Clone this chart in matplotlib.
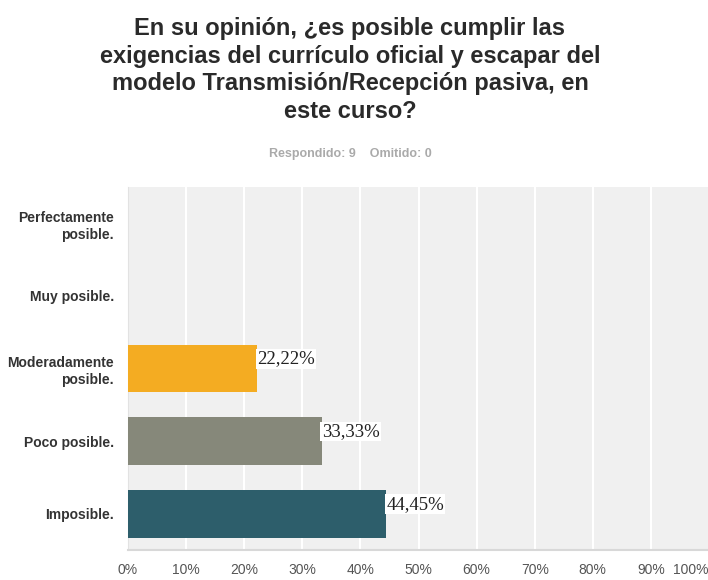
import matplotlib.pyplot as plt
import numpy as np

# survey answers, top to bottom as shown
categories = ["Perfectamente\nposible.", "Muy posible.", "Moderadamente\nposible.",
              "Poco posible.", "Imposible."]
percentages = [0.0, 0.0, 22.22, 33.33, 44.45]
bar_colors = ["#F4AC22", "#F4AC22", "#F4AC22", "#86887A", "#2D5E6B"]
tick_values = list(range(0, 101, 10))
tick_labels = [f"{v}%" for v in tick_values]

title = ("En su opinión, ¿es posible cumplir las\n"
         "exigencias del currículo oficial y escapar del\n"
         "modelo Transmisión/Recepción pasiva, en\n"
         "este curso?")
subtitle = "Respondido: 9    Omitido: 0"

plt.rcParams['font.family'] = ['Liberation Sans', 'DejaVu Sans']

fig = plt.figure(figsize=(7.08, 5.80), dpi=100)
ax = fig.add_axes([128 / 708, 30 / 580, 581 / 708, 363 / 580])
ax.set_facecolor("#F0F0F0")

y = np.arange(len(categories))
ax.barh(y, percentages, height=0.66, color=bar_colors, zorder=3)

for yi, val in zip(y, percentages):
    if val <= 0:
        continue
    ax.text(val, yi - 0.13, f"{val:.2f}%".replace(".", ","),
            ha="left", va="center", fontsize=13.5, color="#222222",
            family=["Liberation Serif", "DejaVu Serif"], zorder=4,
            bbox=dict(facecolor="white", edgecolor="none", pad=1.0))

ax.set_xlim(0, 100)
ax.set_ylim(len(categories) - 0.5, -0.5)
ax.set_xticks(tick_values)
ax.set_xticklabels(tick_labels, fontsize=10, color="#555555")
ax.set_yticks(y)
ax.set_yticklabels(categories, fontsize=10, fontweight="bold", color="#333333",
                   linespacing=1.25, multialignment="right")
ax.tick_params(axis="x", length=0, pad=9)
ax.tick_params(axis="y", length=0, pad=10)
lbls = ax.get_xticklabels()
lbls[-1].set_ha("right")

ax.grid(axis="x", color="white", linewidth=1.5, zorder=1)
ax.set_axisbelow(True)
for side in ["top", "right"]:
    ax.spines[side].set_visible(False)
ax.spines["left"].set_color("#E2E2E2")
ax.spines["bottom"].set_color("#D8D8D8")
ax.spines["bottom"].set_linewidth(1.5)

fig.text(350 / 708, 1 - 70 / 580, title, ha="center", va="center", fontsize=17,
         fontweight="bold", color="#2A2A2A", linespacing=1.27)
fig.text(350 / 708, 1 - 154 / 580, subtitle, ha="center", va="center",
         fontsize=9, fontweight="bold", color="#AAAAAA")

fig.savefig("out.png", dpi=100)
